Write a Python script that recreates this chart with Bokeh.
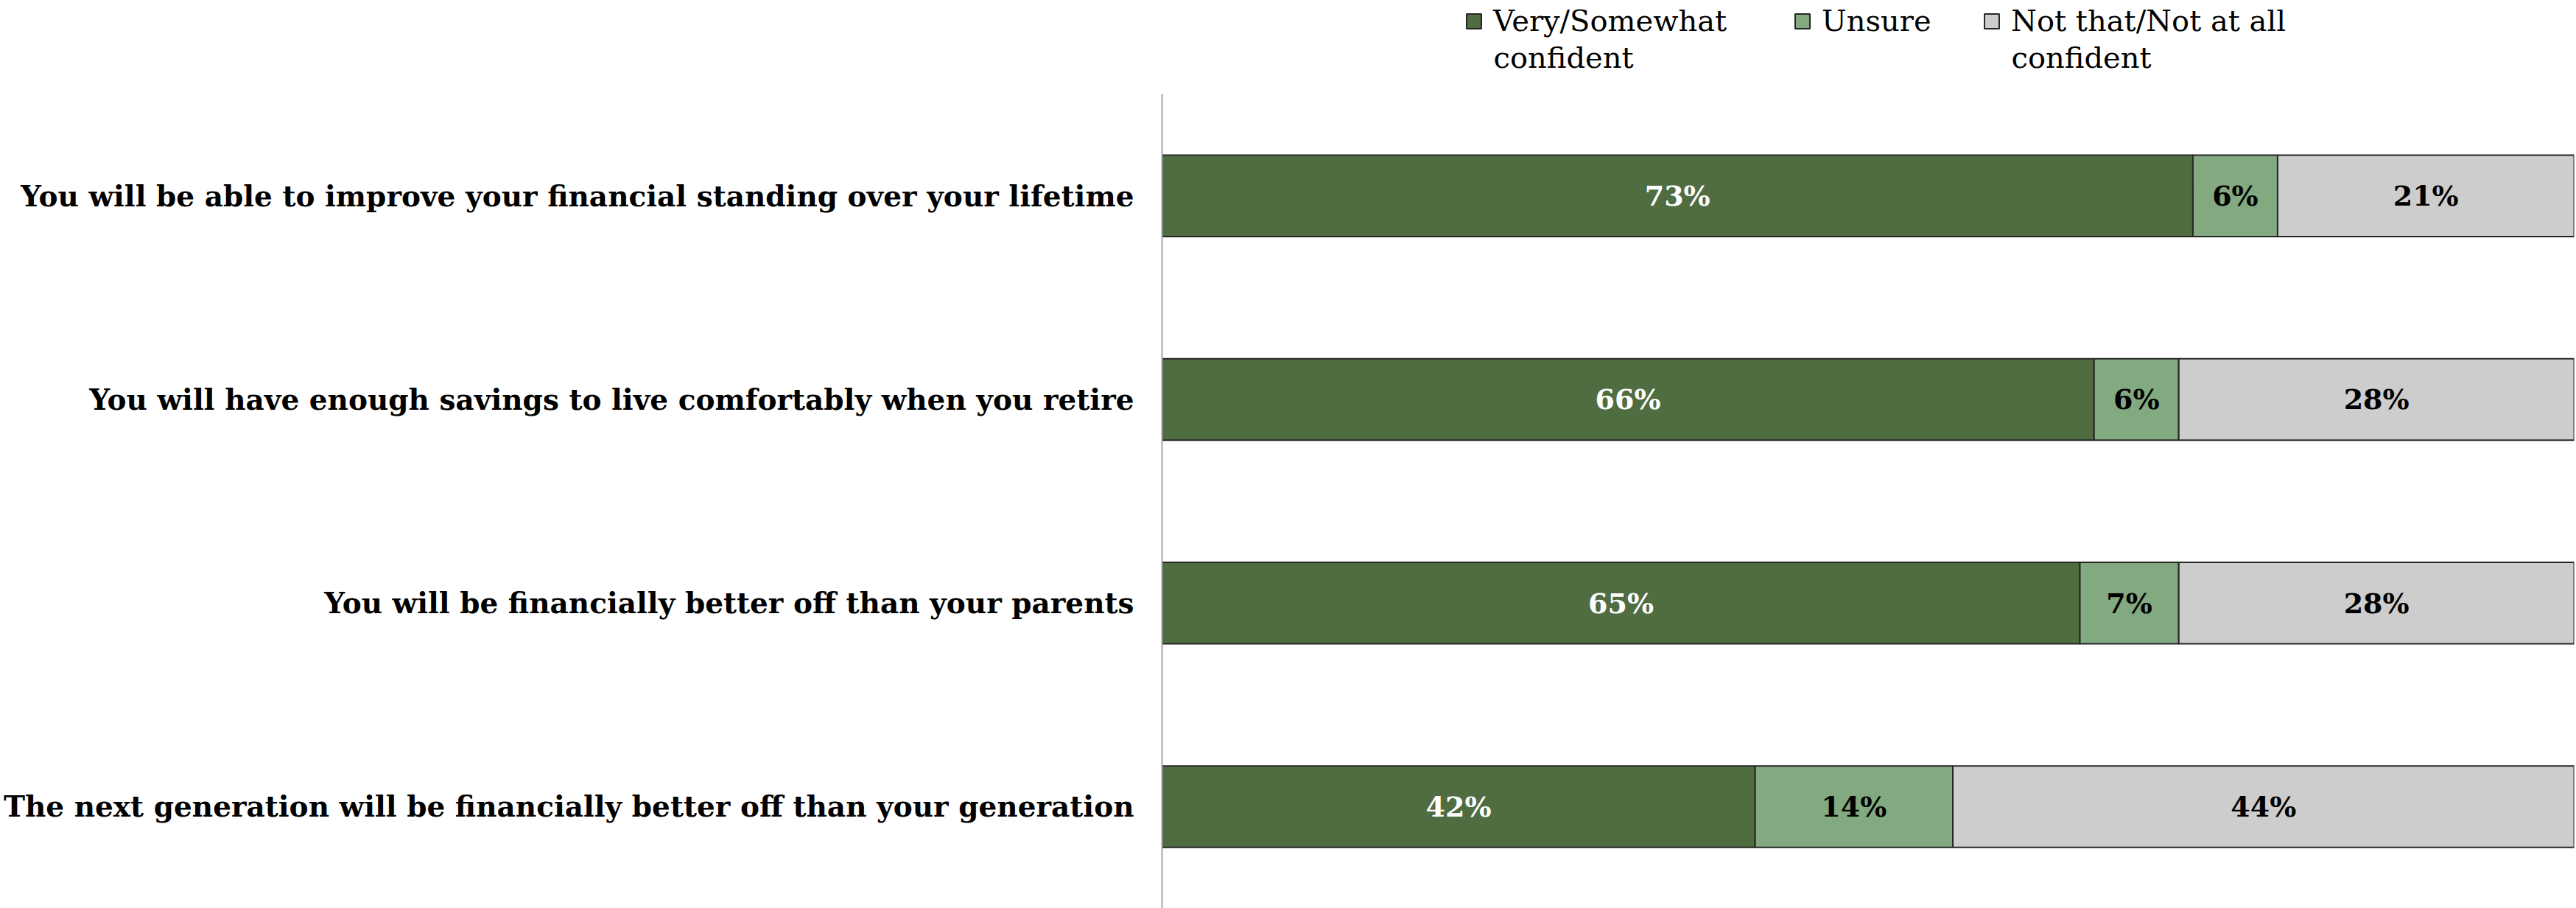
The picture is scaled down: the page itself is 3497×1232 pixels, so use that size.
from bokeh.plotting import figure
from bokeh.layouts import column
from bokeh.models import ColumnDataSource, FactorRange, Range1d, Legend, LegendItem, Label
from bokeh.core.properties import value
from bokeh.embed import file_html
from bokeh.resources import INLINE

categories = [
    "You will be able to improve your financial standing over your lifetime",
    "You will have enough savings to live comfortably when you retire",
    "You will be financially better off than your parents",
    "The next generation will be financially better off than your generation",
]
confident = [73, 66, 65, 42]
unsure = [6, 6, 7, 14]
not_confident = [21, 28, 28, 44]
legend_line1 = ["Very/Somewhat", "Unsure", "Not that/Not at all"]
legend_line2 = ["confident", "", "confident"]
colors = ["#506C41", "#82A97F", "#CDCDCD"]
label_colors = ["#FFFFFF", "#000000", "#000000"]

FONT = "DejaVu Serif"
W, H = 3497, 1232
TOP = 127
LEFT = 1577

# ---------------- main chart ----------------
src = ColumnDataSource(dict(cat=categories, conf=confident, uns=unsure, nc=not_confident))

p = figure(width=W, height=H - TOP, output_backend="svg", toolbar_location=None,
           y_range=FactorRange(factors=list(reversed(categories))),
           x_range=Range1d(0, 100), title_location=None,
           min_border_left=LEFT, min_border_right=3, min_border_top=0, min_border_bottom=0)

rends = p.hbar_stack(["conf", "uns", "nc"], y="cat", height=0.4, source=src,
                     fill_color=colors, line_color="#262626", line_width=2)

keys = [confident, unsure, not_confident]
xs, ys, txt, tc = [], [], [], []
for i, c in enumerate(categories):
    left = 0
    for k, vals in enumerate(keys):
        v = vals[i]
        xs.append(left + v / 2)
        ys.append(c)
        txt.append(f"{v}%")
        tc.append(label_colors[k])
        left += v
lsrc = ColumnDataSource(dict(x=xs, y=ys, t=txt, c=tc))
p.text(x="x", y="y", text="t", source=lsrc, text_color="c", text_align="center",
       text_baseline="middle", text_font=value(FONT), text_font_style="bold",
       text_font_size="38px")

p.xaxis.visible = False
p.xgrid.visible = False
p.ygrid.visible = False
p.outline_line_color = None
p.yaxis.major_tick_line_color = None
p.yaxis.minor_tick_line_color = None
p.yaxis.axis_line_color = "#A6A6A6"
p.yaxis.axis_line_width = 2
p.yaxis.major_label_text_font = FONT
p.yaxis.major_label_text_font_style = "bold"
p.yaxis.major_label_text_font_size = "39px"
p.yaxis.major_label_text_color = "#000000"
p.yaxis.major_label_standoff = 32

# ---------------- legend strip ----------------
lf = figure(width=W, height=TOP, output_backend="svg", toolbar_location=None,
            x_axis_type=None, y_axis_type=None, title_location=None,
            x_range=Range1d(0, 1), y_range=Range1d(0, 1),
            min_border_left=LEFT, min_border_right=3, min_border_top=0, min_border_bottom=0)
lf.outline_line_color = None
lf.xgrid.visible = False
lf.ygrid.visible = False

sq_x = [1988 - LEFT, 2434 - LEFT, 2691 - LEFT]
for col, l1, l2, sx in zip(colors, legend_line1, legend_line2, sq_x):
    # swatch-only renderer (its single bar lies outside the strip's visible range)
    r = lf.hbar(y=[-5], right=[0], left=[0], height=0.5, fill_color=col,
                line_color="#262626", line_width=2)
    lg = Legend(items=[LegendItem(label=l1, renderers=[r])], location=(sx, TOP - 51),
                glyph_width=25, glyph_height=25, label_standoff=14,
                label_text_font=FONT, label_text_font_size="40px",
                label_text_line_height=1.15, label_text_color="#000000",
                padding=0, margin=0, border_line_color=None, background_fill_alpha=0)
    lf.add_layout(lg)
    if l2:
        lf.add_layout(Label(x=sx + 39, y=TOP - 77, x_units="screen", y_units="screen",
                            text=l2, text_font=FONT, text_font_size="40px",
                            text_color="#000000", text_baseline="middle"))

layout = column(lf, p, spacing=0)
open("out.html", "w").write(file_html(layout, INLINE))
